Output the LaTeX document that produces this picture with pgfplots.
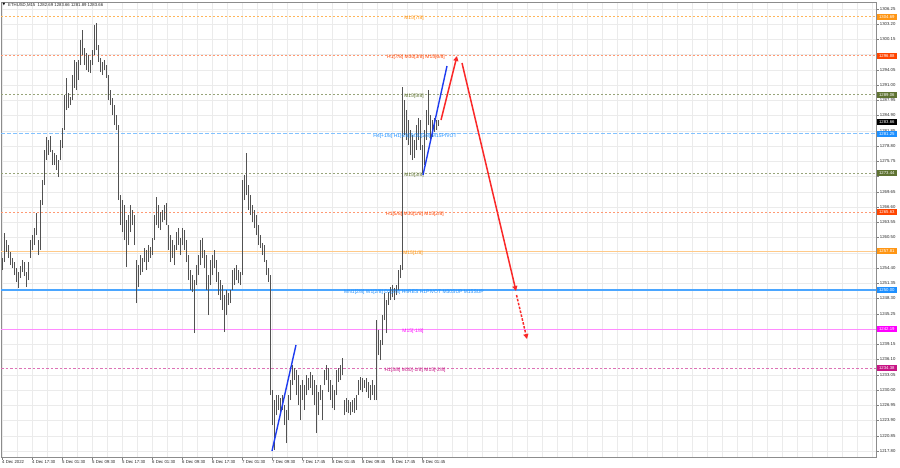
\documentclass[border=0pt]{standalone}
\usepackage{fontspec}
\setmainfont{Liberation Sans}
\newfontfamily\dejavu{DejaVu Sans}
\usepackage{pgfplots}
\pgfplotsset{compat=1.18}
\usepackage{pgfplotstable}
\usetikzlibrary{arrows.meta}
\definecolor{mOrange}{RGB}{255,150,20}
\definecolor{mRed}{RGB}{255,69,0}
\definecolor{mOlive}{RGB}{95,115,50}
\definecolor{mBlue}{RGB}{30,144,255}
\definecolor{mMag}{RGB}{255,0,255}
\definecolor{mViolet}{RGB}{199,21,133}
\definecolor{arRed}{RGB}{250,40,40}
\definecolor{arBlue}{RGB}{30,60,240}
\pgfplotstableread{
x lo hi
2 1254.0 1256.4
4 1255.6 1261.4
6 1257.6 1260.0
8 1256.4 1259.0
10 1255.0 1257.6
12 1254.4 1256.4
14 1253.0 1255.6
16 1251.6 1254.4
18 1250.4 1253.6
20 1252.4 1254.8
22 1253.6 1256.0
24 1252.8 1255.6
26 1250.6 1253.6
28 1252.0 1255.6
30 1256.4 1260.0
32 1258.0 1261.0
34 1259.0 1262.4
36 1261.0 1265.4
38 1257.0 1260.0
40 1258.0 1268.0
42 1267.0 1272.0
44 1271.0 1278.0
46 1276.0 1280.6
48 1277.0 1280.0
50 1277.6 1280.8
52 1275.0 1278.0
54 1275.0 1277.4
56 1274.0 1277.0
58 1272.6 1276.0
60 1276.0 1280.0
62 1278.4 1282.4
64 1282.0 1289.0
66 1286.0 1292.4
68 1286.4 1289.4
70 1287.0 1288.6
72 1288.0 1293.0
74 1290.4 1296.0
76 1290.0 1295.6
78 1292.0 1296.0
80 1295.0 1300.0
82 1297.0 1302.0
84 1295.0 1298.4
86 1294.0 1297.4
88 1293.6 1297.0
90 1293.4 1296.0
92 1295.0 1298.0
94 1297.0 1303.0
96 1298.0 1303.4
98 1295.6 1299.0
100 1293.6 1296.4
102 1293.0 1295.6
104 1294.0 1296.0
106 1292.4 1295.0
108 1288.0 1293.0
110 1287.0 1290.0
112 1285.0 1288.4
114 1283.0 1287.0
116 1282.0 1285.0
118 1268.0 1283.0
120 1263.0 1269.0
122 1261.6 1268.0
124 1260.0 1267.0
126 1254.6 1264.0
128 1259.0 1265.0
130 1261.6 1267.0
132 1263.0 1266.0
134 1259.0 1265.0
136 1247.4 1256.0
138 1250.6 1255.0
140 1253.0 1257.0
142 1253.6 1256.4
144 1255.6 1258.4
146 1254.0 1258.0
148 1255.6 1259.0
150 1256.4 1258.6
152 1257.0 1260.4
154 1260.0 1265.0
156 1263.0 1268.6
158 1262.4 1267.0
160 1262.0 1265.6
162 1263.6 1266.0
164 1264.0 1267.0
166 1263.0 1267.4
168 1258.0 1263.0
170 1255.6 1261.0
172 1256.4 1260.0
174 1255.0 1259.0
176 1258.0 1261.6
178 1259.0 1262.4
180 1257.0 1260.4
182 1259.0 1262.4
184 1258.0 1262.0
186 1255.6 1260.0
188 1252.0 1257.0
190 1250.0 1254.0
192 1249.6 1253.0
194 1241.4 1252.0
196 1251.0 1255.0
198 1253.0 1257.0
200 1255.0 1260.0
202 1256.4 1260.4
204 1254.4 1258.0
206 1250.0 1257.0
208 1245.0 1253.0
210 1251.0 1256.0
212 1253.0 1257.0
214 1254.4 1258.0
216 1251.6 1256.0
218 1249.0 1253.6
220 1248.0 1252.0
222 1246.0 1251.0
224 1241.6 1249.0
226 1245.0 1250.0
228 1247.0 1249.4
230 1247.4 1250.0
232 1250.0 1254.0
234 1251.0 1254.4
236 1252.0 1255.0
238 1251.4 1254.0
240 1251.0 1253.6
242 1253.0 1272.0
244 1268.0 1273.0
246 1269.0 1277.4
248 1266.0 1271.0
250 1265.0 1269.0
252 1263.6 1267.0
254 1262.4 1266.0
256 1261.0 1265.0
258 1259.0 1263.0
260 1258.4 1261.0
262 1257.0 1259.4
264 1255.6 1259.0
266 1253.0 1256.0
268 1251.6 1254.4
270 1229.0 1253.0
272 1223.0 1230.0
274 1218.0 1228.0
276 1225.0 1229.0
278 1226.0 1229.0
280 1225.6 1228.4
282 1226.0 1229.0
284 1223.0 1227.0
286 1219.4 1226.0
288 1224.0 1229.0
290 1228.0 1232.0
292 1231.0 1235.0
294 1232.0 1234.4
296 1229.0 1234.0
298 1227.0 1233.0
300 1224.0 1231.0
302 1228.0 1232.0
304 1226.0 1231.0
306 1229.0 1233.0
308 1230.0 1232.4
310 1230.4 1233.6
312 1229.0 1233.0
314 1227.0 1232.0
316 1221.4 1231.0
318 1225.0 1229.6
320 1228.0 1231.0
322 1224.0 1230.0
324 1231.0 1234.0
326 1232.0 1235.0
328 1229.6 1234.4
330 1228.0 1232.0
332 1226.4 1231.0
334 1226.0 1230.0
336 1229.0 1234.0
338 1231.6 1234.4
340 1232.0 1235.0
342 1233.0 1236.4
344 1225.0 1228.0
346 1225.6 1228.4
348 1225.4 1228.0
350 1225.0 1227.6
352 1225.6 1228.0
354 1225.4 1228.4
356 1226.0 1229.0
358 1229.0 1232.0
360 1230.0 1232.6
362 1229.6 1232.4
364 1230.4 1232.0
366 1229.6 1232.4
368 1228.4 1231.6
370 1228.0 1231.0
372 1229.0 1232.0
374 1228.0 1231.0
376 1228.0 1244.0
378 1237.0 1242.0
380 1236.0 1240.0
382 1239.0 1245.0
384 1244.0 1249.4
386 1241.4 1248.0
388 1247.0 1249.6
390 1248.0 1250.6
392 1248.6 1251.0
394 1248.0 1250.4
396 1249.0 1251.0
398 1250.0 1254.0
400 1252.4 1255.0
402 1254.0 1290.6
404 1281.0 1288.0
406 1280.0 1286.0
408 1279.0 1284.0
410 1277.0 1282.0
412 1276.0 1281.0
414 1276.4 1280.0
416 1278.0 1283.0
418 1280.0 1284.4
420 1278.0 1284.0
422 1273.4 1279.0
424 1275.0 1282.0
426 1280.0 1286.0
428 1283.0 1290.0
430 1280.0 1285.0
432 1280.6 1284.0
434 1281.6 1284.4
436 1282.0 1284.0
438 1282.8 1284.0
}\bars
\begin{document}
\begin{tikzpicture}
\path[use as bounding box, fill=white] (0,0) rectangle (900bp,468bp);
\begin{axis}[
  at={(1bp,11bp)}, anchor=south west,
  scale only axis, width=875bp, height=455bp,
  xmin=1, xmax=876, ymin=1216.6, ymax=1307.6,
  axis line style={draw=black!45, line width=0.6bp},
  xtick={2,32,...,422},
  minor xtick={2,17,...,872},
  xticklabels={4 Dec 2022,4 Dec 17:30,5 Dec 01:30,5 Dec 09:30,5 Dec 17:30,6 Dec 01:30,6 Dec 09:30,6 Dec 17:30,7 Dec 01:30,7 Dec 09:30,7 Dec 17:45,8 Dec 01:45,8 Dec 09:45,8 Dec 17:45,9 Dec 01:45},
  ytick={1217.80,1220.85,1223.90,1226.95,1230.00,1233.05,1236.10,1239.15,1242.20,1245.25,1248.30,1251.35,1254.40,1257.45,1260.50,1263.55,1266.60,1269.65,1272.70,1275.75,1278.80,1281.85,1284.90,1287.95,1291.00,1294.05,1297.10,1300.15,1303.20,1306.25},
  yticklabels={1217.80,1220.85,1223.90,1226.95,1230.00,1233.05,1236.10,1239.15,{},1245.25,1248.30,1251.35,1254.40,{},1260.50,1263.55,1266.60,1269.65,{},1275.75,1278.80,1281.85,1284.90,1287.95,1291.00,1294.05,{},1300.15,1303.20,1306.25},
  grid=both,
  major grid style={draw=black!8, line width=0.5bp},
  minor grid style={draw=black!8, line width=0.5bp},
  xtick pos=left, ytick pos=right, yticklabel pos=right,
  tick align=outside, major tick length=2.5bp, minor tick length=0pt,
  tick style={draw=black!50, line width=0.4bp},
  xticklabel style={font=\fontsize{4.3}{5}\selectfont, anchor=north west, inner xsep=0pt, inner ysep=1.2bp, text=black!85},
  yticklabel style={font=\fontsize{4.3}{5}\selectfont, anchor=west, inner xsep=1.2bp, text=black!85},
]
% level lines
\addplot[forget plot, mOrange!70, line width=0.6bp, dash pattern=on 2bp off 2bp] coordinates {(1,1304.69) (876,1304.69)};
\addplot[forget plot, mRed!55, line width=0.6bp, dash pattern=on 2bp off 2bp] coordinates {(1,1296.88) (876,1296.88)};
\addplot[forget plot, mOlive!65, line width=0.6bp, dash pattern=on 2bp off 2bp] coordinates {(1,1289.06) (876,1289.06)};
\addplot[forget plot, mBlue!55, line width=0.7bp, dash pattern=on 4bp off 2bp] coordinates {(1,1281.25) (876,1281.25)};
\addplot[forget plot, mOlive!65, line width=0.6bp, dash pattern=on 2bp off 2bp] coordinates {(1,1273.44) (876,1273.44)};
\addplot[forget plot, mRed!55, line width=0.6bp, dash pattern=on 2bp off 2bp] coordinates {(1,1265.63) (876,1265.63)};
\addplot[forget plot, mOrange!50, line width=0.6bp] coordinates {(1,1257.81) (876,1257.81)};
\addplot[forget plot, mBlue!80, line width=1.1bp] coordinates {(1,1250.00) (876,1250.00)};
\addplot[forget plot, mMag!45, line width=0.6bp] coordinates {(1,1242.19) (876,1242.19)};
\addplot[forget plot, mViolet!60, line width=0.6bp, dash pattern=on 2.5bp off 2bp] coordinates {(1,1234.38) (876,1234.38)};
% price bars (high-low ranges)
\addplot[forget plot, draw=none, no markers,
  error bars/.cd, y dir=plus, y explicit, error mark=none,
  error bar style={draw=black!68, line width=0.9bp, solid}]
  table[x=x, y=lo, y error plus expr=\thisrow{hi}-\thisrow{lo}] {\bars};
% level labels
\begin{scope}[every node/.style={font=\fontsize{5}{6}\selectfont, yshift=-2bp, inner sep=0pt}]
\node[text=mOrange] at (axis cs:414,1304.69) {M15[7/8]};
\node[text=mRed] at (axis cs:416,1296.88) {H1[7/8] M30[3/8] M15[6/8]};
\node[text=mOlive] at (axis cs:414,1289.06) {M15[5/8]};
\node[text=mBlue] at (axis cs:415,1281.25) {H4[+1/8] H1[6/8] M30[2/8] M15PIVOT};
\node[text=mOlive] at (axis cs:414,1273.44) {M15[3/8]};
\node[text=mRed] at (axis cs:415,1265.63) {H1[5/8] M30[1/8] M15[2/8]};
\node[text=mOrange] at (axis cs:413,1257.81) {M15[1/8]};
\node[text=mBlue] at (axis cs:414,1250.00) {MN1[2/8] W1[2/8] D1[2/8] H4RES H1PIVOT M30SUP M15SUP};
\node[text=mMag] at (axis cs:413,1242.19) {M15[-1/8]};
\node[text=mViolet] at (axis cs:415,1234.38) {H1[3/8] M30[-1/8] M15[-2/8]};
\end{scope}
% trend lines
\addplot[forget plot, arBlue, line width=1.4bp] coordinates {(272,1217.8) (296,1239.0)};
\addplot[forget plot, arBlue, line width=1.4bp] coordinates {(423,1273.0) (447,1294.8)};
\addplot[forget plot, arRed, line width=1.5bp, -{Triangle[length=5bp,width=5bp]}] coordinates {(441,1284.0) (457,1296.8)};
\addplot[forget plot, arRed, line width=1.5bp, -{Triangle[length=5bp,width=5bp]}] coordinates {(462,1295.4) (516,1249.8)};
\addplot[forget plot, arRed, line width=1.5bp, dash pattern=on 2.5bp off 1.5bp, -{Triangle[length=5bp,width=5bp]}] coordinates {(516.5,1249.0) (527,1240.2)};
% anchors for right-hand price boxes
\coordinate (b1) at (axis cs:876,1304.69);
\coordinate (b2) at (axis cs:876,1296.88);
\coordinate (b3) at (axis cs:876,1289.06);
\coordinate (b4) at (axis cs:876,1283.66);
\coordinate (b5) at (axis cs:876,1281.25);
\coordinate (b6) at (axis cs:876,1273.44);
\coordinate (b7) at (axis cs:876,1265.63);
\coordinate (b8) at (axis cs:876,1257.81);
\coordinate (b9) at (axis cs:876,1250.00);
\coordinate (b10) at (axis cs:876,1242.19);
\coordinate (b11) at (axis cs:876,1234.38);
\end{axis}
\begin{scope}[every node/.style={anchor=west, text=white, font=\fontsize{4.3}{5}\selectfont, inner xsep=0.8bp, inner ysep=0pt, minimum width=20bp, minimum height=6bp, xshift=0.6bp}]
\node[fill=mOrange] at (b1) {1304.69};
\node[fill=mRed] at (b2) {1296.88};
\node[fill=mOlive] at (b3) {1289.06};
\node[fill=mBlue] at (b5) {1281.25};
\node[fill=black] at (b4) {1283.66};
\node[fill=mOlive] at (b6) {1273.44};
\node[fill=mRed] at (b7) {1265.63};
\node[fill=mOrange] at (b8) {1257.81};
\node[fill=mBlue] at (b9) {1250.00};
\node[fill=mMag] at (b10) {1242.19};
\node[fill=mViolet] at (b11) {1234.38};
\end{scope}
\node[anchor=west, inner sep=0pt, font=\dejavu\fontsize{3.5}{4}\selectfont] at (2.5bp,463bp) {▼};
\node[anchor=west, inner sep=0pt, font=\fontsize{4.3}{5}\selectfont, text=black!85] at (8bp,463bp) {ETHUSD,M15\ \ 1282.69\ 1283.66\ 1281.89\ 1283.66};
\end{tikzpicture}
\end{document}
